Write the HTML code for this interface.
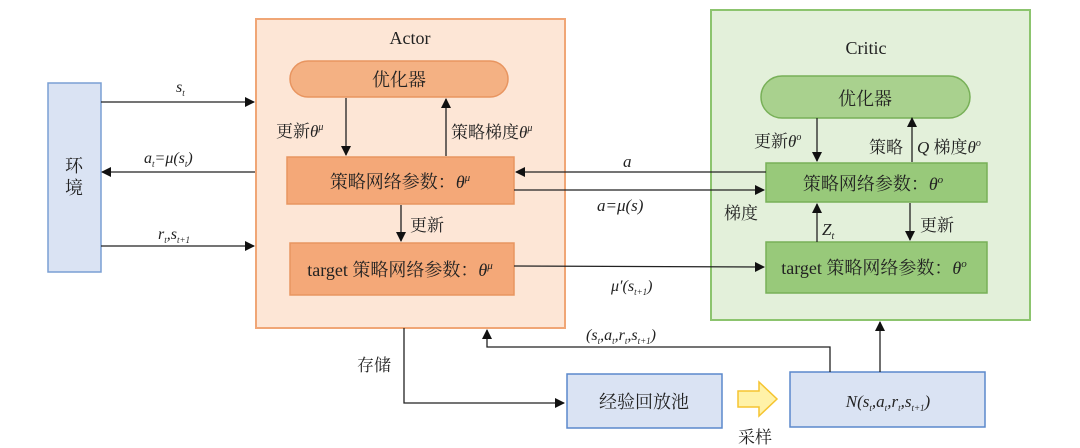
<!DOCTYPE html>
<html><head><meta charset="utf-8"><style>
body{margin:0;background:#fff}
svg{display:block}
text{font-family:"Liberation Serif","Noto Serif CJK SC","Noto Sans CJK SC",serif;fill:#222}
.i{font-style:italic}
</style></head><body>
<svg width="1080" height="448" viewBox="0 0 1080 448" xmlns="http://www.w3.org/2000/svg">
<defs>
<marker id="ar" markerWidth="10" markerHeight="10" refX="9" refY="5" orient="auto" markerUnits="userSpaceOnUse">
<path d="M0,0 L10,5 L0,10 z" fill="#111"/></marker>
</defs>
<!-- Actor -->
<rect x="256" y="19" width="309" height="309" fill="#fde6d6" stroke="#f0a676" stroke-width="2"/>
<text x="410" y="44" font-size="18" text-anchor="middle">Actor</text>
<rect x="290" y="61" width="218" height="36" rx="18" fill="#f4b183" stroke="#e89560" stroke-width="1.5"/>
<text x="399" y="86" font-size="18" text-anchor="middle">优化器</text>
<rect x="287" y="157" width="227" height="47" fill="#f4a878" stroke="#e89560" stroke-width="1.5"/>
<text x="400" y="188" font-size="18" text-anchor="middle">策略网络参数：<tspan class="i">θ</tspan><tspan class="i" font-size="11" dy="-7">μ</tspan></text>
<rect x="290" y="243" width="224" height="52" fill="#f4a878" stroke="#e89560" stroke-width="1.5"/>
<text x="400" y="276" font-size="18" text-anchor="middle">target 策略网络参数：<tspan class="i">θ</tspan><tspan class="i" font-size="11" dy="-7">μ</tspan></text>
<line x1="346" y1="98" x2="346" y2="155" stroke="#222" stroke-width="1.3" marker-end="url(#ar)"/>
<line x1="446" y1="156" x2="446" y2="99" stroke="#222" stroke-width="1.3" marker-end="url(#ar)"/>
<line x1="401" y1="205" x2="401" y2="241" stroke="#222" stroke-width="1.3" marker-end="url(#ar)"/>
<text x="276" y="137" font-size="17">更新<tspan class="i">θ</tspan><tspan class="i" font-size="10" dy="-7">μ</tspan></text>
<text x="451" y="138" font-size="17">策略梯度<tspan class="i">θ</tspan><tspan class="i" font-size="10" dy="-7">μ</tspan></text>
<text x="410" y="231" font-size="17">更新</text>
<!-- Critic -->
<rect x="711" y="10" width="319" height="310" fill="#e3f0da" stroke="#8cc46e" stroke-width="2"/>
<text x="866" y="54" font-size="18" text-anchor="middle">Critic</text>
<rect x="761" y="76" width="209" height="42" rx="21" fill="#a9d18e" stroke="#78b058" stroke-width="1.5"/>
<text x="865" y="105" font-size="18" text-anchor="middle">优化器</text>
<rect x="766" y="163" width="221" height="39" fill="#98c97a" stroke="#78b058" stroke-width="1.5"/>
<text x="873" y="190" font-size="18" text-anchor="middle">策略网络参数：<tspan class="i">θ</tspan><tspan class="i" font-size="11" dy="-7">o</tspan></text>
<rect x="766" y="242" width="221" height="51" fill="#98c97a" stroke="#78b058" stroke-width="1.5"/>
<text x="874" y="274" font-size="18" text-anchor="middle">target 策略网络参数：<tspan class="i">θ</tspan><tspan class="i" font-size="11" dy="-7">o</tspan></text>
<line x1="817" y1="118" x2="817" y2="161" stroke="#222" stroke-width="1.3" marker-end="url(#ar)"/>
<line x1="912" y1="162" x2="912" y2="118" stroke="#222" stroke-width="1.3" marker-end="url(#ar)"/>
<line x1="817" y1="242" x2="817" y2="204" stroke="#222" stroke-width="1.3" marker-end="url(#ar)"/>
<line x1="910" y1="203" x2="910" y2="240" stroke="#222" stroke-width="1.3" marker-end="url(#ar)"/>
<text x="754" y="147" font-size="17">更新<tspan class="i">θ</tspan><tspan class="i" font-size="10" dy="-7">o</tspan></text>
<text x="869" y="153" font-size="17">策略</text>
<text x="917" y="153" font-size="17"><tspan class="i">Q</tspan> 梯度<tspan class="i">θ</tspan><tspan class="i" font-size="10" dy="-7">o</tspan></text>
<text x="822" y="235" font-size="17" class="i">Z<tspan font-size="10" dy="4">t</tspan></text>
<text x="920" y="231" font-size="17">更新</text>
<!-- Env -->
<rect x="48" y="83" width="53" height="189" fill="#dae3f3" stroke="#7a9fd4" stroke-width="1.5"/>
<text x="74" y="172" font-size="18" text-anchor="middle">环</text>
<text x="74" y="194" font-size="18" text-anchor="middle">境</text>
<line x1="101" y1="102" x2="254" y2="102" stroke="#222" stroke-width="1.3" marker-end="url(#ar)"/>
<line x1="255" y1="172" x2="102" y2="172" stroke="#222" stroke-width="1.3" marker-end="url(#ar)"/>
<line x1="101" y1="246" x2="254" y2="246" stroke="#222" stroke-width="1.3" marker-end="url(#ar)"/>
<text x="176" y="92" font-size="16" class="i">s<tspan font-size="9" dy="4">t</tspan></text>
<text x="144" y="163" font-size="16" class="i">a<tspan font-size="9" dy="4">t</tspan><tspan dy="-4">=μ(s</tspan><tspan font-size="9" dy="4">t</tspan><tspan dy="-4">)</tspan></text>
<text x="158" y="239" font-size="16" class="i">r<tspan font-size="9" dy="4">t</tspan><tspan dy="-4">,s</tspan><tspan font-size="9" dy="4">t+1</tspan></text>
<!-- middle connectors -->
<line x1="766" y1="172" x2="516" y2="172" stroke="#222" stroke-width="1.3" marker-end="url(#ar)"/>
<line x1="514" y1="190" x2="764" y2="190" stroke="#222" stroke-width="1.3" marker-end="url(#ar)"/>
<line x1="514" y1="266" x2="764" y2="267" stroke="#222" stroke-width="1.3" marker-end="url(#ar)"/>
<text x="623" y="167" font-size="17" class="i">a</text>
<text x="597" y="211" font-size="17" class="i">a=μ(s)</text>
<text x="724" y="219" font-size="17">梯度</text>
<text x="611" y="291" font-size="16" class="i">μ′(s<tspan font-size="9" dy="4">t+1</tspan><tspan dy="-4">)</tspan></text>
<!-- bottom -->
<polyline points="404,328 404,403 564,403" fill="none" stroke="#222" stroke-width="1.3" marker-end="url(#ar)"/>
<text x="357" y="371" font-size="17">存储</text>
<rect x="567" y="374" width="155" height="54" fill="#dae3f3" stroke="#5b88cc" stroke-width="1.5"/>
<text x="644" y="408" font-size="18" text-anchor="middle">经验回放池</text>
<rect x="790" y="372" width="195" height="55" fill="#dae3f3" stroke="#5b88cc" stroke-width="1.5"/>
<text x="888" y="407" font-size="17" text-anchor="middle" class="i">N(s<tspan font-size="9" dy="4">t</tspan><tspan dy="-4">,a</tspan><tspan font-size="9" dy="4">t</tspan><tspan dy="-4">,r</tspan><tspan font-size="9" dy="4">t</tspan><tspan dy="-4">,s</tspan><tspan font-size="9" dy="4">t+1</tspan><tspan dy="-4">)</tspan></text>
<path d="M738,391 L759,391 L759,382 L777,399 L759,416 L759,407 L738,407 z" fill="#fff2a8" stroke="#f5c430" stroke-width="1.5"/>
<text x="738" y="443" font-size="17">采样</text>
<polyline points="830,372 830,347 487,347 487,330" fill="none" stroke="#222" stroke-width="1.3" marker-end="url(#ar)"/>
<text x="586" y="340" font-size="16" class="i">(s<tspan font-size="9" dy="4">t</tspan><tspan dy="-4">,a</tspan><tspan font-size="9" dy="4">t</tspan><tspan dy="-4">,r</tspan><tspan font-size="9" dy="4">t</tspan><tspan dy="-4">,s</tspan><tspan font-size="9" dy="4">t+1</tspan><tspan dy="-4">)</tspan></text>
<line x1="880" y1="372" x2="880" y2="322" stroke="#222" stroke-width="1.3" marker-end="url(#ar)"/>
</svg>
</body></html>
